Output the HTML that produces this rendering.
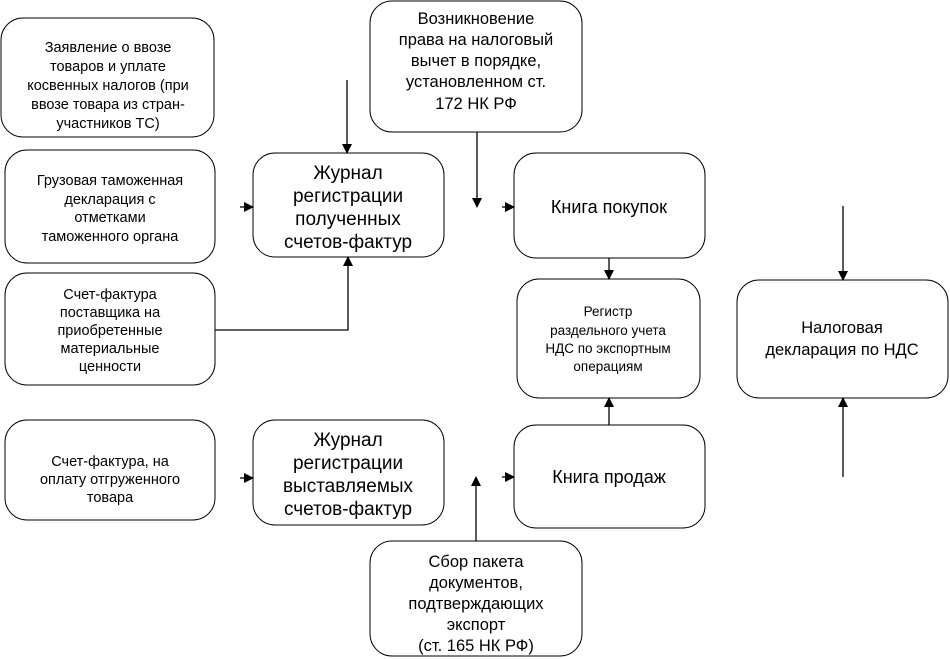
<!DOCTYPE html>
<html><head><meta charset="utf-8"><style>
html,body{margin:0;padding:0;background:#fff;}
svg{display:block;}
text{font-family:"Liberation Sans",Arial,sans-serif;fill:#000;}
</style></head><body>
<svg width="950" height="659" viewBox="0 0 950 659" xmlns="http://www.w3.org/2000/svg">
<defs>
<marker id="a" markerWidth="10" markerHeight="10" refX="9" refY="5" orient="auto" markerUnits="userSpaceOnUse">
<path d="M0,0 L10,5 L0,10 z" fill="#000"/></marker>
</defs>
<g fill="#fff" stroke="#000" stroke-width="1">
<rect x="1" y="18" width="213" height="119" rx="22"/>
<rect x="5" y="150" width="210" height="113" rx="22"/>
<rect x="5" y="273" width="210" height="112" rx="22"/>
<rect x="5" y="420" width="210" height="100" rx="22"/>
<rect x="253" y="153" width="191" height="104" rx="22"/>
<rect x="253" y="420" width="191" height="105" rx="22"/>
<rect x="370" y="1" width="212" height="131" rx="22"/>
<rect x="514" y="153" width="191" height="105" rx="22"/>
<rect x="517" y="279" width="183" height="119" rx="22"/>
<rect x="514" y="425" width="191" height="103" rx="22"/>
<rect x="737" y="280" width="211" height="118" rx="22"/>
<rect x="370" y="541" width="212" height="115" rx="22"/>
</g>
<g stroke="#000" stroke-width="1.3" fill="none">
<line x1="347" y1="80" x2="347" y2="153" marker-end="url(#a)"/>
<line x1="240" y1="207" x2="253" y2="207" marker-end="url(#a)"/>
<polyline points="215,330 348,330 348,257" marker-end="url(#a)"/>
<line x1="477" y1="132" x2="477" y2="207" marker-end="url(#a)"/>
<line x1="502" y1="207" x2="514" y2="207" marker-end="url(#a)"/>
<line x1="609" y1="258" x2="609" y2="279" marker-end="url(#a)"/>
<line x1="843" y1="206" x2="843" y2="280" marker-end="url(#a)"/>
<line x1="843" y1="477" x2="843" y2="398" marker-end="url(#a)"/>
<line x1="609" y1="425" x2="609" y2="398" marker-end="url(#a)"/>
<line x1="240" y1="478" x2="253" y2="478" marker-end="url(#a)"/>
<line x1="502" y1="477" x2="514" y2="477" marker-end="url(#a)"/>
<line x1="476" y1="541" x2="476" y2="477" marker-end="url(#a)"/>
</g>
<g font-size="14.5" text-anchor="middle">
<text x="108" y="52">Заявление о ввозе</text>
<text x="108" y="71">товаров и уплате</text>
<text x="108" y="90">косвенных налогов (при</text>
<text x="108" y="109">ввозе товара из стран-</text>
<text x="108" y="128">участников ТС)</text>
<text x="110" y="185">Грузовая таможенная</text>
<text x="110" y="204">декларация с</text>
<text x="110" y="222">отметками</text>
<text x="110" y="241">таможенного органа</text>
<text x="110" y="299">Счет-фактура</text>
<text x="110" y="317">поставщика на</text>
<text x="110" y="335">приобретенные</text>
<text x="110" y="353">материальные</text>
<text x="110" y="371">ценности</text>
<text x="110" y="466">Счет-фактура, на</text>
<text x="110" y="484">оплату отгруженного</text>
<text x="110" y="502">товара</text>
<text x="608" y="316" font-size="13.5">Регистр</text>
<text x="608" y="335" font-size="13.5">раздельного учета</text>
<text x="608" y="353" font-size="13.5">НДС по экспортным</text>
<text x="608" y="371" font-size="13.5">операциям</text>
</g>
<g font-size="16.5" text-anchor="middle">
<text x="476" y="24">Возникновение</text>
<text x="476" y="45">права на налоговый</text>
<text x="476" y="66">вычет в порядке,</text>
<text x="476" y="87">установленном ст.</text>
<text x="476" y="109">172 НК РФ</text>
<text x="476" y="567">Сбор пакета</text>
<text x="476" y="588">документов,</text>
<text x="476" y="609">подтверждающих</text>
<text x="476" y="630">экспорт</text>
<text x="476" y="651">(ст. 165 НК РФ)</text>
<text x="842" y="333">Налоговая</text>
<text x="842" y="355">декларация по НДС</text>
<text x="609" y="213" font-size="18">Книга покупок</text>
<text x="609" y="483" font-size="18">Книга продаж</text>
</g>
<g font-size="19" text-anchor="middle">
<text x="348" y="179">Журнал</text>
<text x="348" y="202">регистрации</text>
<text x="348" y="225">полученных</text>
<text x="348" y="248">счетов-фактур</text>
<text x="348" y="446">Журнал</text>
<text x="348" y="469">регистрации</text>
<text x="348" y="492">выставляемых</text>
<text x="348" y="515">счетов-фактур</text>
</g>
</svg>
</body></html>
